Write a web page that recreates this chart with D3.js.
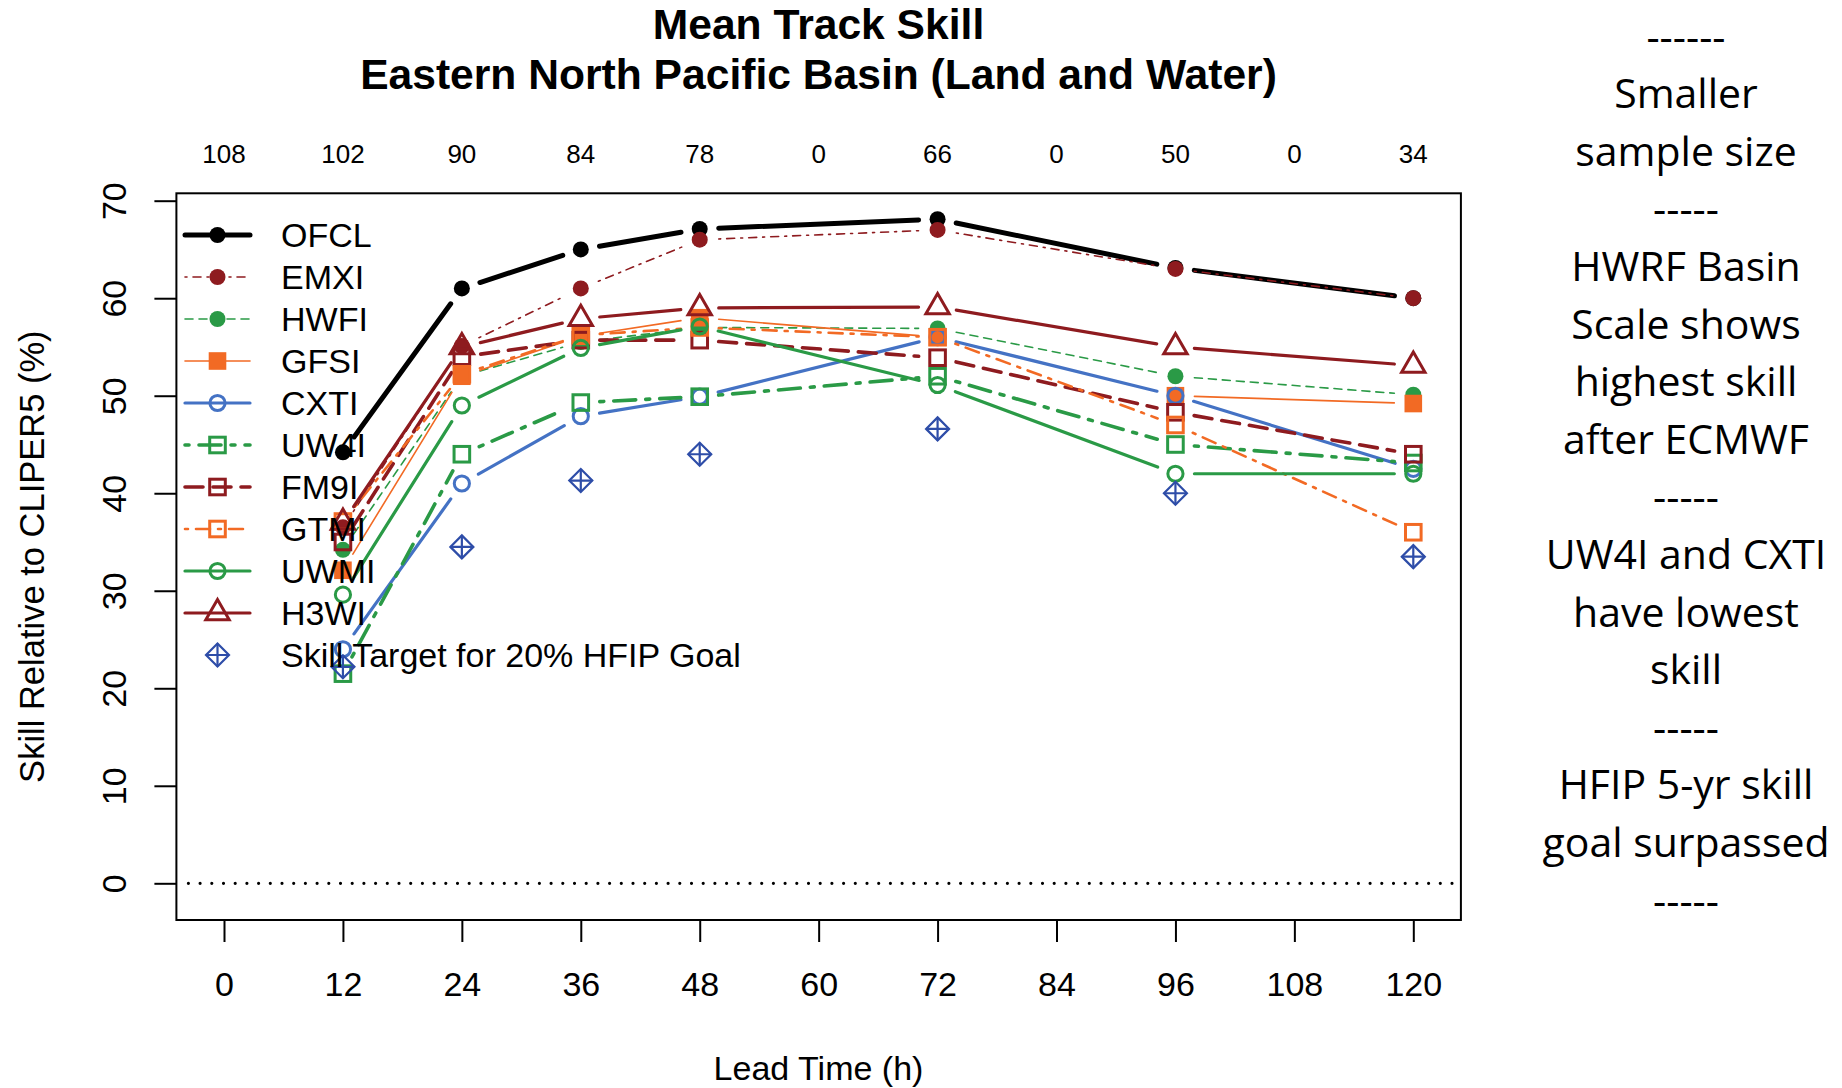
<!DOCTYPE html>
<html>
<head>
<meta charset="utf-8">
<script src="https://cdn.jsdelivr.net/npm/d3@7"></script>
<style>
  html, body { margin: 0; padding: 0; background: #ffffff; }
  svg { display: block; }
</style>
</head>
<body>
<svg id="chart" width="1842" height="1088"></svg>
<script>
// Forecast lead times (h) with verified skill values
const leadTimes = [12, 24, 36, 48, 72, 96, 120];

// Track skill relative to CLIPER5 (%) for each model
const ofcl   = [44.2, 61.0, 65.0, 67.1, 68.1, 63.1, 60.0];
const emxi   = [36.5, 55.1, 61.0, 66.0, 67.0, 63.0, 60.0];
const hwfi   = [34.2, 52.0, 55.5, 57.0, 56.9, 52.0, 50.1];
const gfsi   = [32.1, 52.0, 56.1, 58.0, 56.0, 50.0, 49.2];
const cxti   = [24.0, 41.0, 47.9, 49.9, 56.0, 50.0, 42.5];
const uw4i   = [21.5, 44.0, 49.3, 49.9, 52.0, 45.0, 43.1];
const fm9i   = [35.0, 54.0, 55.7, 55.7, 53.9, 48.3, 44.0];
const gtmi   = [37.1, 52.2, 56.2, 57.0, 56.0, 47.0, 36.0];
const uwmi   = [29.6, 49.0, 54.9, 57.1, 51.1, 42.0, 42.0];
const h3wi   = [37.0, 55.0, 57.9, 59.0, 59.1, 55.0, 53.1];
const target = [22.2, 34.5, 41.3, 44.0, 46.6, 40.0, 33.5];

// Axis ticks and the homogeneous sample size at each lead time
const xTicks = [0, 12, 24, 36, 48, 60, 72, 84, 96, 108, 120];
const yTicks = [0, 10, 20, 30, 40, 50, 60, 70];
const sampleSizes = ["108", "102", "90", "84", "78", "0", "66", "0", "50", "0", "34"];

const modelNames = ["OFCL", "EMXI", "HWFI", "GFSI", "CXTI", "UW4I", "FM9I", "GTMI", "UWMI", "H3WI"];
const targetName = "Skill Target for 20% HFIP Goal";

// Side commentary
const notes = ["------", "Smaller", "sample size", "-----", "HWRF Basin", "Scale shows",
  "highest skill", "after ECMWF", "-----", "UW4I and CXTI", "have lowest", "skill",
  "-----", "HFIP 5-yr skill", "goal surpassed", "-----"];

// Drawing styles per model (colour, line width, dash pattern, marker)
const DARKRED = "#8E1B1F", GREEN = "#2A9A46", ORANGE = "#F26A24", BLUE = "#4472C4", TBLUE = "#2E4DA8";
const styles = {
  OFCL: { color: "#000000", width: 5,   dash: null,          marker: "dot" },
  EMXI: { color: DARKRED,   width: 1.6, dash: "2,6,8,6",     marker: "dot" },
  HWFI: { color: GREEN,     width: 1.6, dash: "8,6",         marker: "dot" },
  GFSI: { color: ORANGE,    width: 1.6, dash: null,          marker: "fsquare" },
  CXTI: { color: BLUE,      width: 3.2, dash: null,          marker: "circle" },
  UW4I: { color: GREEN,     width: 3.6, dash: "4,10,22,10",  marker: "square" },
  FM9I: { color: DARKRED,   width: 3.6, dash: "18,10",       marker: "square" },
  GTMI: { color: ORANGE,    width: 2.6, dash: "3,8,14,8",    marker: "square" },
  UWMI: { color: GREEN,     width: 3.2, dash: null,          marker: "circle" },
  H3WI: { color: DARKRED,   width: 3.2, dash: null,          marker: "triangle" }
};
const seriesValues = { OFCL: ofcl, EMXI: emxi, HWFI: hwfi, GFSI: gfsi, CXTI: cxti,
  UW4I: uw4i, FM9I: fm9i, GTMI: gtmi, UWMI: uwmi, H3WI: h3wi };

const svg = d3.select("#chart");
const FONT = "'Liberation Sans', Arial, Helvetica, sans-serif";

const box = { left: 176.4, right: 1460.9, top: 193.3, bottom: 920 };
const x = d3.scaleLinear().domain([0, 120]).range([224, 1413.3]);
const y = d3.scaleLinear().domain([0, 70]).range([883.3, 200.7]);

// Titles
svg.append("text").attr("x", 818.5).attr("y", 38.5).attr("text-anchor", "middle")
  .attr("font-family", FONT).attr("font-weight", "bold").attr("font-size", 42.6)
  .text("Mean Track Skill");
svg.append("text").attr("x", 818.5).attr("y", 89).attr("text-anchor", "middle")
  .attr("font-family", FONT).attr("font-weight", "bold").attr("font-size", 42.6)
  .text("Eastern North Pacific Basin (Land and Water)");

// Sample sizes along the top
svg.append("g").selectAll("text").data(xTicks).join("text")
  .attr("x", d => x(d)).attr("y", 163).attr("text-anchor", "middle")
  .attr("font-family", FONT).attr("font-size", 26)
  .text((d, i) => sampleSizes[i]);

// Bottom axis
const xAxis = svg.append("g").attr("transform", `translate(0,${box.bottom})`)
  .call(d3.axisBottom(x).tickValues(xTicks).tickSize(22).tickPadding(30).tickFormat(d3.format("d")));
xAxis.select(".domain").remove();
xAxis.selectAll("line").attr("stroke", "#000").attr("stroke-width", 2);
xAxis.selectAll("text").attr("font-family", FONT).attr("font-size", 34).attr("fill", "#000");

// Left axis with vertical labels
const yAxis = svg.append("g").attr("transform", `translate(${box.left},0)`)
  .call(d3.axisLeft(y).tickValues(yTicks).tickSize(22).tickFormat(d3.format("d")));
yAxis.select(".domain").remove();
yAxis.selectAll("line").attr("stroke", "#000").attr("stroke-width", 2);
yAxis.selectAll("text").attr("x", null).attr("dy", "0.35em").attr("text-anchor", "middle")
  .attr("transform", "translate(-62,0) rotate(-90)")
  .attr("font-family", FONT).attr("font-size", 34).attr("fill", "#000");

// Axis titles
svg.append("text").attr("x", 818.5).attr("y", 1080).attr("text-anchor", "middle")
  .attr("font-family", FONT).attr("font-size", 34).text("Lead Time (h)");
svg.append("text").attr("transform", `translate(32,${(box.top + box.bottom) / 2}) rotate(-90)`)
  .attr("dy", "0.35em").attr("text-anchor", "middle")
  .attr("font-family", FONT).attr("font-size", 34.5).text("Skill Relative to CLIPER5 (%)");

// Zero-skill reference line
svg.append("line").attr("x1", box.left + 12).attr("x2", box.right - 4)
  .attr("y1", y(0)).attr("y2", y(0))
  .attr("stroke", "#000").attr("stroke-width", 3.2).attr("stroke-linecap", "round")
  .attr("stroke-dasharray", "0,11.7");

// Marker drawing
function drawMarker(g, kind, cx, cy, color) {
  if (kind === "dot") {
    g.append("circle").attr("cx", cx).attr("cy", cy).attr("r", 8).attr("fill", color);
  } else if (kind === "circle") {
    g.append("circle").attr("cx", cx).attr("cy", cy).attr("r", 7.6)
      .attr("fill", "none").attr("stroke", color).attr("stroke-width", 3);
  } else if (kind === "fsquare") {
    g.append("rect").attr("x", cx - 8.8).attr("y", cy - 8.8).attr("width", 17.6).attr("height", 17.6)
      .attr("fill", color);
  } else if (kind === "square") {
    g.append("rect").attr("x", cx - 7.8).attr("y", cy - 7.8).attr("width", 15.6).attr("height", 15.6)
      .attr("fill", "none").attr("stroke", color).attr("stroke-width", 3);
  } else if (kind === "triangle") {
    const r = 13.5;
    const pts = [[cx, cy - r], [cx + r * 0.866, cy + r / 2], [cx - r * 0.866, cy + r / 2]];
    g.append("polygon").attr("points", pts.map(p => p.join(",")).join(" "))
      .attr("fill", "none").attr("stroke", color).attr("stroke-width", 3).attr("stroke-linejoin", "miter");
  } else if (kind === "diamondplus") {
    const h = 11.5;
    g.append("polygon")
      .attr("points", [[cx, cy - h], [cx + h, cy], [cx, cy + h], [cx - h, cy]].map(p => p.join(",")).join(" "))
      .attr("fill", "none").attr("stroke", color).attr("stroke-width", 2.2);
    g.append("path").attr("d", `M${cx - h},${cy}H${cx + h}M${cx},${cy - h}V${cy + h}`)
      .attr("stroke", color).attr("stroke-width", 2.2);
  }
}

// Series: line segments stop short of each point, then markers on top
const GAP = 19;
const plot = svg.append("g");
modelNames.forEach(name => {
  const st = styles[name];
  const vals = seriesValues[name];
  const g = plot.append("g");
  const pts = leadTimes.map((t, i) => [x(t), y(vals[i])]);
  for (let i = 0; i < pts.length - 1; i++) {
    const [x0, y0] = pts[i], [x1, y1] = pts[i + 1];
    const L = Math.hypot(x1 - x0, y1 - y0);
    if (L <= 2 * GAP) continue;
    const ux = (x1 - x0) / L, uy = (y1 - y0) / L;
    g.append("line")
      .attr("x1", x0 + ux * GAP).attr("y1", y0 + uy * GAP)
      .attr("x2", x1 - ux * GAP).attr("y2", y1 - uy * GAP)
      .attr("stroke", st.color).attr("stroke-width", st.width)
      .attr("stroke-dasharray", st.dash)
      .attr("stroke-linecap", "round");
  }
  pts.forEach(([px, py]) => drawMarker(g, st.marker, px, py, st.color));
});

// HFIP target points
const tg = plot.append("g");
leadTimes.forEach((t, i) => drawMarker(tg, "diamondplus", x(t), y(target[i]), TBLUE));

// Legend
const legend = svg.append("g");
const legendRow = i => 235 + i * 42;
modelNames.forEach((name, i) => {
  const st = styles[name];
  const ly = legendRow(i);
  legend.append("line").attr("x1", 185).attr("x2", 250).attr("y1", ly).attr("y2", ly)
    .attr("stroke", st.color).attr("stroke-width", st.width)
    .attr("stroke-dasharray", st.dash).attr("stroke-linecap", "round");
  drawMarker(legend, st.marker, 217.5, ly, st.color);
  legend.append("text").attr("x", 281).attr("y", ly).attr("dy", "0.35em")
    .attr("font-family", FONT).attr("font-size", 34).text(name);
});
{
  const ly = legendRow(modelNames.length);
  drawMarker(legend, "diamondplus", 217.5, ly, TBLUE);
  legend.append("text").attr("x", 281).attr("y", ly).attr("dy", "0.35em")
    .attr("font-family", FONT).attr("font-size", 34).text(targetName);
}

// Plot frame
svg.append("rect").attr("x", box.left).attr("y", box.top)
  .attr("width", box.right - box.left).attr("height", box.bottom - box.top)
  .attr("fill", "none").attr("stroke", "#000").attr("stroke-width", 2);

// Side notes, sized so the widest line spans about 285px
const NOTE_FONT = "'Open Sans', 'Noto Sans', sans-serif";
const noteG = svg.append("g");
const probe = noteG.append("text").attr("font-family", NOTE_FONT).attr("font-size", 40).text("goal surpassed");
const noteSize = 40 * 287 / probe.node().getComputedTextLength();
probe.remove();
noteG.selectAll("text").data(notes).join("text")
  .attr("x", 1686).attr("y", (d, i) => 50.5 + i * 57.6)
  .attr("text-anchor", "middle").attr("font-family", NOTE_FONT).attr("font-size", noteSize)
  .attr("fill", "#000").text(d => d);
</script>
</body>
</html>
